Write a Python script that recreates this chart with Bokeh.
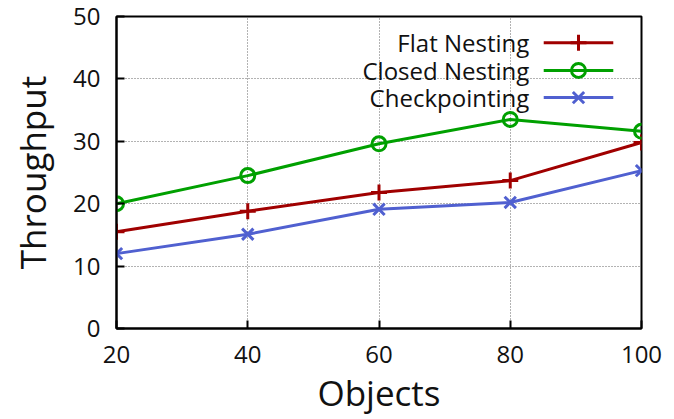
from bokeh.plotting import figure
from bokeh.embed import file_html
from bokeh.resources import INLINE
from bokeh.models import FixedTicker, Range1d
from bokeh.core.properties import value

objects = [20, 40, 60, 80, 100]
flat_nesting = [15.5, 18.8, 21.8, 23.7, 29.8]
closed_nesting = [20.0, 24.5, 29.6, 33.5, 31.6]
checkpointing = [12.0, 15.1, 19.1, 20.2, 25.3]
series_names = ["Flat Nesting", "Closed Nesting", "Checkpointing"]
x_ticks = [20, 40, 60, 80, 100]
y_ticks = [0, 10, 20, 30, 40, 50]

FONT = "Open Sans"
colors = ["#a00000", "#00a000", "#5060d0"]
markers = ["cross", "circle", "x"]

p = figure(width=674, height=419, output_backend="svg", toolbar_location=None,
           x_range=Range1d(20, 100), y_range=Range1d(0, 50),
           min_border_left=116, min_border_right=33, min_border_top=16, min_border_bottom=91)
p.background_fill_color = "white"
p.border_fill_color = "white"
p.outline_line_color = "black"
p.outline_line_width = 2

for ax in (p.xaxis[0], p.yaxis[0]):
    ax.axis_line_width = 2
    ax.axis_line_color = "black"
    ax.major_tick_in = 8
    ax.major_tick_out = 0
    ax.major_tick_line_width = 2
    ax.minor_tick_in = 0
    ax.minor_tick_out = 0
    ax.major_label_text_font = FONT
    ax.major_label_text_font_size = "24px"
    ax.major_label_text_color = "#111111"
    ax.axis_label_text_font = FONT
    ax.axis_label_text_font_size = "35px"
    ax.axis_label_text_font_style = "normal"
    ax.axis_label_text_color = "#111111"

p.xaxis.ticker = FixedTicker(ticks=x_ticks)
p.yaxis.ticker = FixedTicker(ticks=y_ticks)
p.xaxis.axis_label = "Objects"
p.yaxis.axis_label = "Throughput"
p.xaxis.major_label_standoff = 17
p.yaxis.major_label_standoff = 16
p.xaxis.axis_label_standoff = 3
p.yaxis.axis_label_standoff = 14

for g in (p.xgrid[0], p.ygrid[0]):
    g.grid_line_color = "#666666"
    g.grid_line_dash = "1 2"
    g.grid_line_width = 1

data = [flat_nesting, closed_nesting, checkpointing]
for ys, c, m in zip(data, colors, markers):
    p.line(objects, ys, line_color=c, line_width=3)
    if m == "circle":
        p.scatter(objects, ys, marker=m, size=14, line_color=c, line_width=3, fill_color=None)
    else:
        p.scatter(objects, ys, marker=m, size=16, line_color=c, line_width=3)

# manual legend (text right-aligned, sample on the right), positions in data units
leg_text_x = 82.9
leg_x0, leg_x1, leg_xm = 85.1, 95.7, 90.4
leg_rows = [45.8, 41.35, 37.0]
for name, c, m, yy in zip(series_names, colors, markers, leg_rows):
    p.line([leg_x0, leg_x1], [yy, yy], line_color=c, line_width=3)
    if m == "circle":
        p.scatter([leg_xm], [yy], marker=m, size=14, line_color=c, line_width=3, fill_color=None)
    else:
        p.scatter([leg_xm], [yy], marker=m, size=16, line_color=c, line_width=3)
    p.text([leg_text_x], [yy], text=[name], text_font=value(FONT), text_font_size="24px",
           text_align="right", text_baseline="middle", text_color="#111111")

open("out.html", "w").write(file_html(p, INLINE))
